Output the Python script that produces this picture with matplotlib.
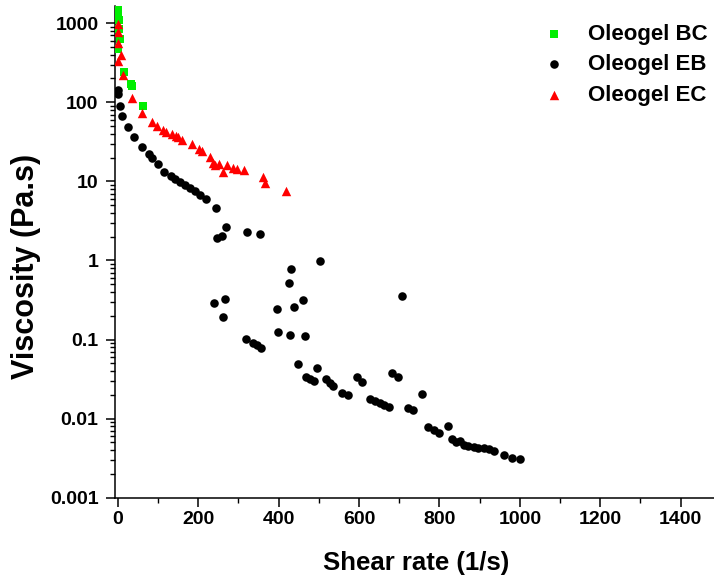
import matplotlib
matplotlib.use("Agg")
import matplotlib.pyplot as plt
from matplotlib.ticker import LogLocator, MultipleLocator, FixedLocator, NullFormatter

plt.rcParams['font.family'] = ['Liberation Sans', 'DejaVu Sans']
plt.rcParams['font.weight'] = 'bold'

# Oleogel BC (green squares)
bc_x = [0, 1, 2, 3, 5, 0, 16, 32, 35, 63]
bc_y = [1500, 1300, 1100, 850, 640, 470, 245, 172, 163, 90]

# Oleogel EB (black circles)
eb_x = [0, 1, 5, 11, 25, 40, 60, 77, 86, 100, 115, 131, 142, 154, 167, 179, 192,
        205, 218, 243, 269, 246, 260, 320, 353, 503, 430, 426, 460, 438, 397, 240,
        266, 262, 399, 428, 465, 318, 335, 346, 357, 447, 495, 468, 478, 488, 518,
        528, 536, 557, 573, 596, 608, 627, 640, 652, 663, 675, 681, 697, 708, 722,
        735, 756, 772, 787, 800, 820, 830, 840, 850, 860, 872, 885, 897, 910, 922,
        935, 960, 980, 1000]
eb_y = [143, 128, 89, 68, 48, 36.4, 27.2, 22.2, 19.6, 16.4, 13.3, 11.6, 10.8, 9.8,
        9.06, 8.3, 7.65, 6.8, 5.94, 4.67, 2.65, 1.93, 2.03, 2.30, 2.19, 0.99, 0.776,
        0.52, 0.318, 0.26, 0.24, 0.286, 0.322, 0.194, 0.125, 0.114, 0.111, 0.101,
        0.0895, 0.085, 0.0787, 0.0486, 0.0433, 0.0339, 0.0314, 0.0302, 0.0314,
        0.0285, 0.0259, 0.0213, 0.0199, 0.0333, 0.0293, 0.0176, 0.0165, 0.0156,
        0.0148, 0.0142, 0.0381, 0.0333, 0.351, 0.0135, 0.013, 0.0207, 0.0078,
        0.0072, 0.0066, 0.0080, 0.0055, 0.0050, 0.0052, 0.0046, 0.0045, 0.0044,
        0.0043, 0.0042, 0.0041, 0.0039, 0.0035, 0.0032, 0.0031]

# Oleogel EC (red triangles)
ec_x = [0, 1, 0, 7, 0, 13, 36, 61, 84, 98, 111, 120, 134, 145, 150, 160, 184, 202,
        210, 229, 237, 242, 252, 262, 272, 287, 296, 314, 360, 367, 418]
ec_y = [963, 770, 559, 391, 328, 223, 113, 73, 56.3, 50, 45, 42, 39.4, 37.1, 36.4,
        33.8, 30, 25.9, 24, 20.3, 17.1, 16, 16.8, 13.2, 16, 14.9, 14.2, 14.1, 11.2,
        9.4, 7.6]

fig = plt.figure(figsize=(7.14, 5.77), dpi=100)
ax = fig.add_axes([114.5 / 714, 1 - 497.7 / 577, 599.5 / 714, 491.7 / 577])

ax.scatter(bc_x, bc_y, marker='s', s=32, color='#00ee00', linewidths=0,
           label='Oleogel BC', zorder=3)
ax.scatter(eb_x, eb_y, marker='o', s=38, color='black', linewidths=0,
           label='Oleogel EB', zorder=3)
ax.scatter(ec_x, ec_y, marker='^', s=46, color='#ff0000', linewidths=0,
           label='Oleogel EC', zorder=4)

ax.set_yscale('log')
ax.set_ylim(0.001, 1650)
ax.set_xlim(-8.5, 1483)

ax.spines['top'].set_visible(False)
ax.spines['right'].set_visible(False)
for sp in ('left', 'bottom'):
    ax.spines[sp].set_linewidth(1.1)

ax.xaxis.set_major_locator(MultipleLocator(200))
ax.xaxis.set_minor_locator(MultipleLocator(100))
ax.yaxis.set_major_locator(FixedLocator([0.001, 0.01, 0.1, 1, 10, 100, 1000]))
ax.yaxis.set_minor_locator(LogLocator(base=10, subs=range(2, 10)))
ax.yaxis.set_minor_formatter(NullFormatter())
ax.set_yticklabels(['0.001', '0.01', '0.1', '1', '10', '100', '1000'])

ax.tick_params(axis='both', which='major', direction='out', length=6.5, width=1.1,
               labelsize=14)
ax.tick_params(axis='both', which='minor', direction='out', length=3.6, width=1.0)
ax.tick_params(axis='y', which='major', pad=5)
ax.tick_params(axis='x', which='major', pad=3)
for lab in ax.get_xticklabels() + ax.get_yticklabels():
    lab.set_fontweight('bold')

ax.set_xlabel('Shear rate (1/s)', fontsize=18.5, fontweight='bold')
ax.set_ylabel('Viscosity (Pa.s)', fontsize=22, fontweight='bold')
ax.xaxis.set_label_coords(0.503, -0.108)
ax.yaxis.set_label_coords(-0.122, 0.47)

leg = fig.legend(loc='upper left', bbox_to_anchor=(537.5 / 714, 1 - 24 / 577),
                 bbox_transform=fig.transFigure, frameon=False, borderpad=0,
                 borderaxespad=0, handlelength=1.5, handletextpad=0.75,
                 labelspacing=0.42, scatterpoints=1,
                 prop={'family': 'Liberation Sans', 'weight': 'bold', 'size': 16})

fig.savefig('out.png', dpi=100)
